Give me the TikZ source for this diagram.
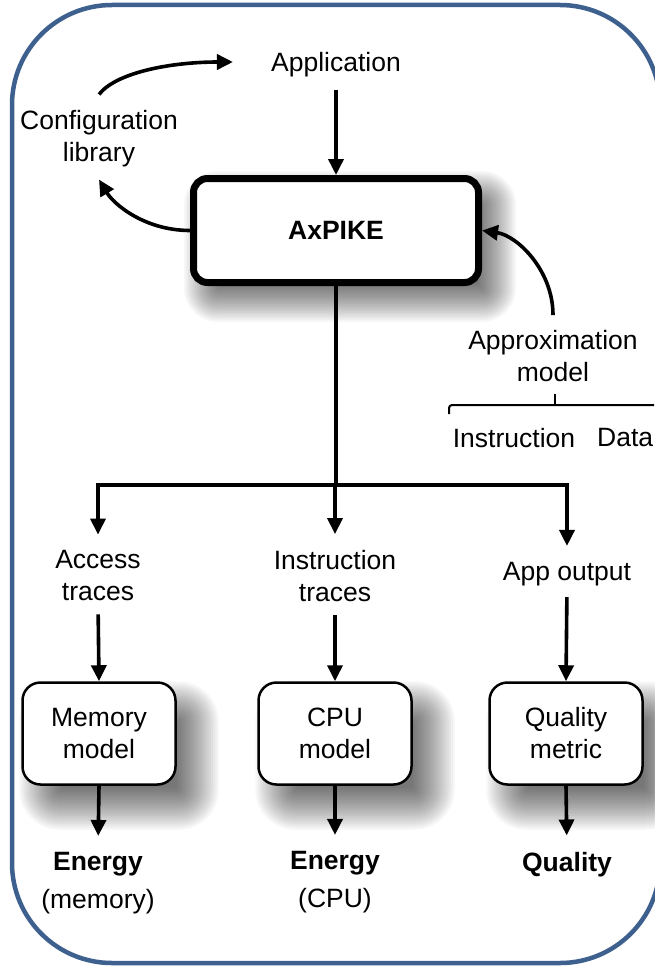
\documentclass[tikz,border=0pt]{standalone}
\usepackage{fontspec}
\setmainfont{Liberation Sans}
\usetikzlibrary{arrows.meta,calc}
\definecolor{frameblue}{RGB}{61,96,142}
\pgfdeclarelayer{bg}
\pgfsetlayers{bg,main}
\newcommand{\mysoftshadow}[5]{%
  \foreach \k in {0,...,21}{%
    \pgfmathsetmacro{\shE}{#4 - \k*2*#4/22}%
    \pgfmathsetmacro{\shR}{max(2,#5+\shE)}%
    \fill[black, opacity=0.032, rounded corners=\shR pt]
      ($(#1.north west)+(#2-\shE, #3-\shE)$) rectangle ($(#1.south east)+(#2+\shE,#3+\shE)$);
  }}
\begin{document}
\begin{tikzpicture}[x=1pt,y=-1pt,
  txt/.style={align=center, font=\fontsize{26.5}{32}\selectfont, inner sep=0pt},
  arr/.style={line width=3.6pt, -{Triangle[width=15pt,length=16pt]}},
  ln/.style={line width=3.6pt},
  mainbox/.style={draw, line width=7pt, rounded corners=14pt, minimum width=285pt, minimum height=104pt, fill=white, font=\fontsize{26.5}{32}\selectfont\bfseries},
  modelbox/.style={draw, line width=2.5pt, rounded corners=18pt, minimum width=153pt, minimum height=102pt, fill=white, align=center, font=\fontsize{26.5}{32}\selectfont, inner sep=0pt},
  brace/.style={line width=2pt}
]
\useasboundingbox (0,0) rectangle (654,966);
\clip (0,0) rectangle (654,966);

% nodes
\node[txt] (app) at (336,65) {Application};
\node[mainbox] (axpike) at (336,230.5) {AxPIKE};
\node[txt] (cfg) at (99,139) {Configuration\\library};
\node[txt] (approx) at (553,356) {Approximation\\model};
\node[txt] (instr) at (514,438) {Instruction};
\node[txt, anchor=west] (data) at (597,438) {Data};

\node[txt] (access) at (98,576) {Access\\traces};
\node[txt] (itraces) at (335,576) {Instruction\\traces};
\node[txt] (appout) at (567,574) {App output};

\node[modelbox] (mem) at (99,733.5) {Memory\\model};
\node[modelbox] (cpu) at (335,733.5) {CPU\\model};
\node[modelbox] (qm) at (566,733.5) {Quality\\metric};

\node[txt, font=\fontsize{26.5}{38}\selectfont] (emem) at (98,883) {\textbf{Energy}\\(memory)};
\node[txt, font=\fontsize{26.5}{38}\selectfont] (ecpu) at (335,882) {\textbf{Energy}\\(CPU)};
\node[txt, font=\fontsize{26.5}{32}\selectfont\bfseries] (qual) at (567,865) {Quality};

% background: frame and shadows
\begin{pgfonlayer}{bg}
\fill[white] (0,0) rectangle (654,966);
\draw[line width=4.5pt, draw=frameblue, rounded corners=100pt] (12,5) rectangle (660,963);
\mysoftshadow{axpike}{14}{16}{20}{14}
\mysoftshadow{mem}{20}{22}{22}{18}
\mysoftshadow{cpu}{20}{22}{22}{18}
\mysoftshadow{qm}{20}{22}{22}{18}
\end{pgfonlayer}

% junction
\coordinate (jc) at (336,485);
\coordinate (jl) at (98,485);
\coordinate (jm) at (335,485);
\coordinate (jr) at (567,485);

% connectors
\draw[arr, shorten <=12pt] (app.south) -- (axpike.north);
\draw[ln] (axpike.south) -- (jc);
\draw[ln, line cap=rect] (jl) -- (jr);
\draw[arr, shorten >=16pt] (jl) -- (access.north);
\draw[arr, shorten >=16pt] (jm) -- (itraces.north);
\draw[arr, shorten >=16pt] (jr) -- (appout.north);

\draw[arr, shorten <=13pt] (access.south) -- (mem.north);
\draw[arr, shorten <=13pt] (itraces.south) -- (cpu.north);
\draw[arr, shorten <=11pt] (appout.south) -- (qm.north);

\draw[arr, shorten >=16pt] (mem.south) -- (emem.north);
\draw[arr, shorten >=16pt] (cpu.south) -- (ecpu.north);
\draw[arr, shorten >=17pt] (qm.south) -- (qual.north);

% curved arrows
\draw[arr] ([yshift=16pt]cfg.north) .. controls +(17,-22) and +(-62,0) .. ([xshift=-38pt,yshift=3pt]app.west);
\draw[arr] (axpike.west) .. controls +(-45,0) and +(15,25) .. ([yshift=-12pt]cfg.south);
\draw[arr] ([yshift=15pt]approx.north) .. controls +(0,-45) and +(35,5) .. (axpike.east);

% bracket
\draw[brace, rounded corners=3pt] (449,414) -- (449,405) -- (660,405);
\draw[brace] (555,405) -- (555,394);
\end{tikzpicture}
\end{document}
